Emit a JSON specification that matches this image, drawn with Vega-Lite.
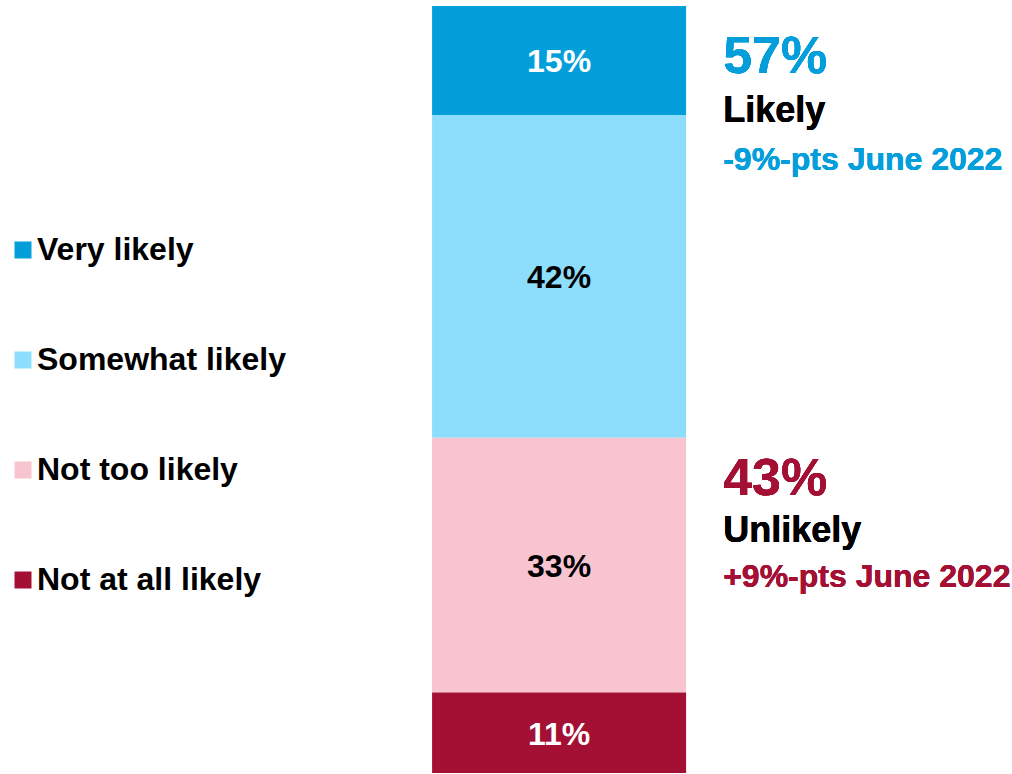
{
  "$schema": "https://vega.github.io/schema/vega-lite/v6.json",
  "width": 1012,
  "height": 774,
  "autosize": {"type": "fit", "contains": "padding"},
  "padding": 0,
  "background": "white",
  "config": {
    "view": {"stroke": null},
    "font": "Liberation Sans",
    "text": {"font": "Liberation Sans", "fontWeight": "bold"}
  },
  "data": {
    "values": [
      {"category": "Very likely", "share": 14.2, "label": "15%"},
      {"category": "Somewhat likely", "share": 42.1, "label": "42%"},
      {"category": "Not too likely", "share": 33.2, "label": "33%"},
      {"category": "Not at all likely", "share": 10.5, "label": "11%"}
    ]
  },
  "transform": [
    {"stack": "share", "groupby": [], "sort": [{"field": "category", "order": "ascending"}], "as": ["y0", "y1"]},
    {"calculate": "(datum.y0 + datum.y1) / 2", "as": "mid"}
  ],
  "layer": [
    {
      "mark": {"type": "bar"},
      "encoding": {
        "x": {"datum": 0, "type": "quantitative", "scale": {"domain": [-1.701, 2.283], "nice": false, "zero": false}, "axis": null},
        "x2": {"datum": 1},
        "y": {"field": "y0", "type": "quantitative", "scale": {"domain": [-0.13, 100.78], "nice": false, "zero": false}, "axis": null},
        "y2": {"field": "y1"},
        "color": {
          "field": "category",
          "type": "nominal",
          "scale": {
            "domain": ["Very likely", "Somewhat likely", "Not too likely", "Not at all likely"],
            "range": ["#049FDB", "#8CDEFC", "#F7C4D0", "#A31034"]
          },
          "legend": {
            "title": null,
            "orient": "none",
            "legendX": 7,
            "legendY": 234,
            "padding": 0,
            "symbolType": "square",
            "symbolSize": 289,
            "symbolStrokeWidth": 0,
            "symbolOpacity": 1,
            "labelFont": "Liberation Sans",
            "labelFontSize": 32,
            "labelFontWeight": "bold",
            "labelColor": "black",
            "labelOffset": -2,
            "rowPadding": 78,
            "labelLimit": 400
          }
        }
      }
    },
    {
      "mark": {"type": "text", "fontSize": 32, "align": "center", "baseline": "middle", "dy": 2},
      "encoding": {
        "x": {"datum": 0.5, "type": "quantitative"},
        "y": {"field": "mid", "type": "quantitative"},
        "text": {"field": "label"},
        "color": {
          "condition": {"test": "datum.category === 'Very likely' || datum.category === 'Not at all likely'", "value": "white"},
          "value": "black"
        }
      }
    },
    {
      "mark": {"type": "text", "text": "57%", "fontSize": 52, "align": "left", "baseline": "alphabetic", "color": "#049FDB"},
      "encoding": {"x": {"datum": 1.146, "type": "quantitative"}, "y": {"datum": 91.26, "type": "quantitative"}}
    },
    {
      "mark": {"type": "text", "text": "Likely", "fontSize": 36, "align": "left", "baseline": "alphabetic", "color": "black"},
      "encoding": {"x": {"datum": 1.146, "type": "quantitative"}, "y": {"datum": 84.87, "type": "quantitative"}}
    },
    {
      "mark": {"type": "text", "text": "-9%-pts June 2022", "fontSize": 32, "align": "left", "baseline": "alphabetic", "color": "#049FDB"},
      "encoding": {"x": {"datum": 1.146, "type": "quantitative"}, "y": {"datum": 78.62, "type": "quantitative"}}
    },
    {
      "mark": {"type": "text", "text": "43%", "fontSize": 52, "align": "left", "baseline": "alphabetic", "color": "#A31034"},
      "encoding": {"x": {"datum": 1.146, "type": "quantitative"}, "y": {"datum": 36.24, "type": "quantitative"}}
    },
    {
      "mark": {"type": "text", "text": "Unlikely", "fontSize": 36, "align": "left", "baseline": "alphabetic", "color": "black"},
      "encoding": {"x": {"datum": 1.146, "type": "quantitative"}, "y": {"datum": 30.12, "type": "quantitative"}}
    },
    {
      "mark": {"type": "text", "text": "+9%-pts June 2022", "fontSize": 32, "align": "left", "baseline": "alphabetic", "color": "#A31034"},
      "encoding": {"x": {"datum": 1.146, "type": "quantitative"}, "y": {"datum": 24.25, "type": "quantitative"}}
    }
  ]
}
